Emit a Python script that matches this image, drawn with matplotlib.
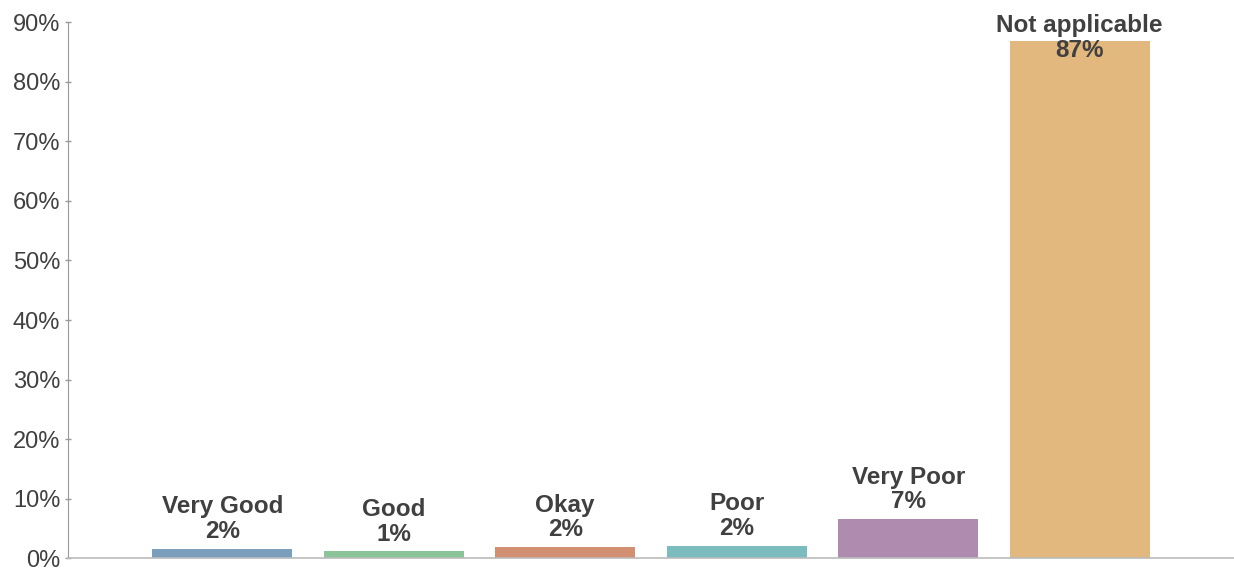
import matplotlib
matplotlib.use("Agg")
import matplotlib.pyplot as plt
from matplotlib.ticker import FuncFormatter

categories = ["Very Good", "Good", "Okay", "Poor", "Very Poor", "Not applicable"]
values = [1.6, 1.2, 1.9, 2.1, 6.6, 86.9]
labels = ["2%", "1%", "2%", "2%", "7%", "87%"]
colors = ["#7a9fbd", "#8cc49a", "#d38f72", "#7bbdbf", "#b08bb0", "#e2b87e"]

plt.rcParams['font.family'] = ['Liberation Sans', 'DejaVu Sans']
txt = "#404040"

fig = plt.figure(figsize=(12.34, 5.68), dpi=100)
ax = fig.add_axes([0.055, 0.017, 0.945, 0.944])

x = range(len(categories))
ax.bar(x, values, width=0.815, color=colors, zorder=2)

ymax = 90
for i, (c, v, l) in enumerate(zip(categories, values, labels)):
    if v + 9 > ymax:
        # label would leave the plot, pin it to the top
        ax.annotate(c + "\n" + l, xy=(i, ymax), xytext=(0, 6), textcoords="offset points",
                    ha="center", va="top", fontsize=17.5, fontweight="bold", color=txt,
                    linespacing=1.1, annotation_clip=False, zorder=3)
    else:
        ax.annotate(c + "\n" + l, xy=(i, v), xytext=(0, 4), textcoords="offset points",
                    ha="center", va="bottom", fontsize=17.5, fontweight="bold", color=txt,
                    linespacing=1.1, zorder=3)

ax.set_xlim(-0.9, 5.9)
ax.set_ylim(0, ymax)
ax.set_yticks(range(0, 91, 10))
ax.yaxis.set_major_formatter(FuncFormatter(lambda v, p: "%d%%" % v))
ax.set_xticks([])

ax.tick_params(axis="y", direction="inout", length=5, width=1, color="#999999",
               labelsize=17, labelcolor=txt, pad=3)
for s in ["top", "right"]:
    ax.spines[s].set_visible(False)
ax.spines["left"].set_color("#999999")
ax.spines["bottom"].set_color("#bbbbbb")
ax.spines["bottom"].set_linewidth(1.2)

fig.savefig("out.png", dpi=100)
